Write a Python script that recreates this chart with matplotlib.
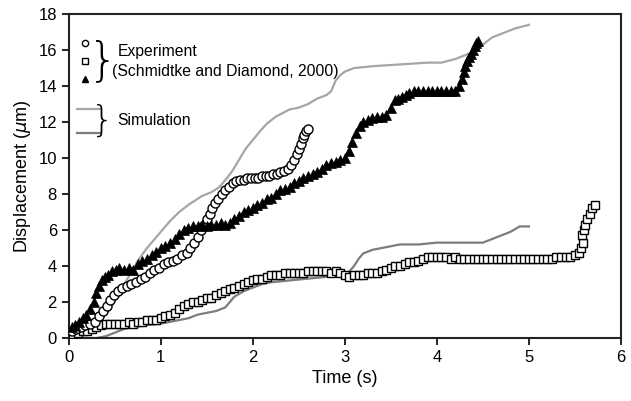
import numpy as np
import matplotlib
matplotlib.use('Agg')
import matplotlib.pyplot as plt

plt.rcParams['font.family'] = ['Liberation Sans', 'DejaVu Sans']

# experiment, circles
circ_t = [0.03, 0.08, 0.13, 0.18, 0.23, 0.28, 0.33, 0.37, 0.41, 0.45, 0.49, 0.53,
          0.58, 0.63, 0.68, 0.73, 0.78, 0.83, 0.88, 0.93, 0.98, 1.03, 1.08, 1.13,
          1.18, 1.23, 1.28, 1.32, 1.36, 1.40, 1.44, 1.47, 1.50, 1.53, 1.56, 1.59,
          1.62, 1.66, 1.70, 1.74, 1.78, 1.82, 1.86, 1.90, 1.94, 1.98, 2.02, 2.06,
          2.10, 2.14, 2.18, 2.22, 2.26, 2.30, 2.34, 2.38, 2.42, 2.45, 2.48, 2.50,
          2.52, 2.54, 2.56, 2.58, 2.60]
circ_y = [0.4, 0.5, 0.6, 0.7, 0.8, 0.9, 1.2, 1.5, 1.8, 2.1, 2.4, 2.6,
          2.8, 2.9, 3.0, 3.1, 3.3, 3.4, 3.6, 3.8, 3.9, 4.1, 4.2, 4.3,
          4.4, 4.6, 4.7, 5.0, 5.3, 5.6, 6.0, 6.3, 6.6, 6.9, 7.2, 7.5,
          7.7, 8.0, 8.2, 8.4, 8.6, 8.7, 8.8, 8.8, 8.9, 8.9, 8.9, 8.9,
          9.0, 9.0, 9.0, 9.1, 9.1, 9.2, 9.3, 9.4, 9.6, 9.9, 10.2, 10.5,
          10.8, 11.1, 11.3, 11.5, 11.6]

# experiment, squares
sq_t = [0.05, 0.10, 0.15, 0.20, 0.25, 0.30, 0.35, 0.40, 0.45, 0.50,
        0.55, 0.60, 0.65, 0.70, 0.75, 0.80, 0.85, 0.90, 0.95, 1.00,
        1.05, 1.10, 1.15, 1.20, 1.25, 1.30, 1.35, 1.40, 1.45, 1.50,
        1.55, 1.60, 1.65, 1.70, 1.75, 1.80, 1.85, 1.90, 1.95, 2.00,
        2.05, 2.10, 2.15, 2.20, 2.25, 2.30, 2.35, 2.40, 2.45, 2.50,
        2.55, 2.60, 2.65, 2.70, 2.75, 2.80, 2.85, 2.90, 2.95, 3.00,
        3.05, 3.10, 3.15, 3.20, 3.25, 3.30, 3.35, 3.40, 3.45, 3.50,
        3.55, 3.60, 3.65, 3.70, 3.75, 3.80, 3.85, 3.90, 3.95, 4.00,
        4.05, 4.10, 4.15, 4.20, 4.25, 4.30, 4.35, 4.40, 4.45, 4.50,
        4.55, 4.60, 4.65, 4.70, 4.75, 4.80, 4.85, 4.90, 4.95, 5.00,
        5.05, 5.10, 5.15, 5.20, 5.25, 5.30, 5.35, 5.40, 5.45, 5.50,
        5.54, 5.57, 5.59, 5.58, 5.60, 5.61, 5.63, 5.66, 5.69, 5.72]
sq_y = [0.2, 0.3, 0.4, 0.4, 0.5, 0.6, 0.7, 0.8, 0.8, 0.8,
        0.8, 0.8, 0.9, 0.8, 0.9, 0.9, 1.0, 1.0, 1.0, 1.1,
        1.2, 1.3, 1.4, 1.6, 1.8, 1.9, 2.0, 2.0, 2.1, 2.2,
        2.2, 2.4, 2.5, 2.6, 2.7, 2.8, 2.9, 3.0, 3.1, 3.2,
        3.3, 3.3, 3.4, 3.5, 3.5, 3.5, 3.6, 3.6, 3.6, 3.6,
        3.6, 3.7, 3.7, 3.7, 3.7, 3.7, 3.6, 3.7, 3.6, 3.5,
        3.4, 3.5, 3.5, 3.5, 3.6, 3.6, 3.6, 3.7, 3.8, 3.9,
        4.0, 4.0, 4.1, 4.2, 4.2, 4.3, 4.4, 4.5, 4.5, 4.5,
        4.5, 4.5, 4.4, 4.5, 4.4, 4.4, 4.4, 4.4, 4.4, 4.4,
        4.4, 4.4, 4.4, 4.4, 4.4, 4.4, 4.4, 4.4, 4.4, 4.4,
        4.4, 4.4, 4.4, 4.4, 4.4, 4.5, 4.5, 4.5, 4.5, 4.6,
        4.7, 5.0, 5.3, 5.7, 6.0, 6.3, 6.6, 6.9, 7.2, 7.4]

# experiment, triangles
tri_t = [0.03, 0.07, 0.11, 0.15, 0.19, 0.23, 0.27, 0.30, 0.33, 0.36, 0.39,
         0.43, 0.47, 0.51, 0.55,
         0.60, 0.65, 0.70, 0.75, 0.80, 0.85, 0.90, 0.95, 1.00, 1.05, 1.10, 1.15,
         1.20, 1.25, 1.30, 1.35, 1.40, 1.45, 1.50, 1.55, 1.60, 1.65, 1.70, 1.75,
         1.80, 1.85, 1.90, 1.95, 2.00, 2.05, 2.10, 2.15, 2.20, 2.25, 2.30, 2.35,
         2.40, 2.45, 2.50, 2.55, 2.60, 2.65, 2.70, 2.75, 2.80, 2.85, 2.90, 2.95,
         3.00, 3.04, 3.08, 3.12, 3.16, 3.20, 3.25, 3.30, 3.35, 3.40, 3.45, 3.50,
         3.54, 3.58, 3.62, 3.66, 3.70, 3.75, 3.80, 3.85, 3.90, 3.95, 4.00, 4.05,
         4.10, 4.15, 4.20, 4.24, 4.27, 4.29, 4.31, 4.33, 4.35, 4.37, 4.39, 4.41,
         4.43, 4.45]
tri_y = [0.6, 0.7, 0.9, 1.1, 1.3, 1.6, 2.0, 2.5, 2.9, 3.2, 3.4,
         3.5, 3.7, 3.8, 3.9,
         3.8, 3.9, 3.8, 4.1, 4.3, 4.4, 4.6, 4.8, 5.0, 5.1, 5.3, 5.5,
         5.8, 6.0, 6.1, 6.2, 6.2, 6.3, 6.2, 6.3, 6.3, 6.4, 6.3, 6.4,
         6.6, 6.8, 7.0, 7.1, 7.2, 7.4, 7.5, 7.7, 7.8, 8.0, 8.2, 8.3,
         8.4, 8.6, 8.7, 8.9, 9.0, 9.1, 9.2, 9.4, 9.6, 9.7, 9.8, 9.9,
         10.0, 10.4, 10.9, 11.4, 11.8, 12.0, 12.1, 12.2, 12.3, 12.3, 12.4, 12.8,
         13.2, 13.3, 13.4, 13.5, 13.6, 13.7, 13.7, 13.7, 13.7, 13.7, 13.7, 13.7,
         13.7, 13.7, 13.7, 14.0, 14.4, 14.8, 15.1, 15.4, 15.6, 15.8, 16.0, 16.2,
         16.4, 16.5]

# simulations
sim1_t = [0.0, 0.15, 0.25, 0.35, 0.45, 0.55, 0.65, 0.75, 0.85, 1.0,
          1.1, 1.2, 1.3, 1.45, 1.55, 1.64, 1.72, 1.78, 1.85, 1.92,
          2.0, 2.08, 2.15, 2.25, 2.4, 2.5, 2.6, 2.7, 2.8, 2.85,
          2.9, 2.95, 3.0, 3.1, 3.3, 3.6, 3.9, 4.05, 4.2, 4.35,
          4.5, 4.6, 4.7, 4.85, 5.0]
sim1_y = [0.3, 0.3, 0.5, 1.0, 1.6, 2.5, 3.4, 4.3, 5.0, 5.9,
          6.5, 7.0, 7.4, 7.9, 8.1, 8.4, 8.9, 9.3, 9.9, 10.5,
          11.0, 11.5, 11.9, 12.3, 12.7, 12.8, 13.0, 13.3, 13.5, 13.7,
          14.3, 14.6, 14.8, 15.0, 15.1, 15.2, 15.3, 15.3, 15.5, 15.8,
          16.3, 16.7, 16.9, 17.2, 17.4]
sim2_t = [0.0, 0.2, 0.3, 0.4, 0.5, 0.6, 0.7, 0.8, 1.0, 1.2,
          1.3, 1.4, 1.5, 1.6, 1.7, 1.75, 1.8, 1.9, 2.0, 2.1,
          2.2, 2.4, 2.6, 2.8, 2.95, 3.05, 3.1, 3.15, 3.2, 3.3,
          3.4, 3.5, 3.6, 3.8, 4.0, 4.2, 4.5, 4.6, 4.7, 4.8,
          4.9, 5.0]
sim2_y = [0.0, 0.0, 0.0, 0.1, 0.3, 0.5, 0.6, 0.7, 0.8, 1.0,
          1.1, 1.3, 1.4, 1.5, 1.7, 2.0, 2.3, 2.6, 2.8, 3.0,
          3.1, 3.2, 3.3, 3.4, 3.5, 3.7, 4.0, 4.4, 4.7, 4.9,
          5.0, 5.1, 5.2, 5.2, 5.3, 5.3, 5.3, 5.5, 5.7, 5.9,
          6.2, 6.2]

light = '#a6a6a6'
dark = '#7c7c7c'

fig = plt.figure(figsize=(6.31, 4.01), dpi=100)
ax = fig.add_axes([0.109, 0.157, 0.875, 0.808])

ax.plot(sim1_t, sim1_y, color=light, lw=1.6, zorder=2)
ax.plot(sim2_t, sim2_y, color=dark, lw=1.6, zorder=2)
ax.plot(sq_t, sq_y, 's', ms=6, mfc='white', mec='black', mew=1, zorder=3)
ax.plot(circ_t, circ_y, 'o', ms=6.5, mfc='white', mec='black', mew=1, zorder=3)
ax.plot(tri_t, tri_y, '^', ms=6.5, mfc='black', mec='black', mew=0.5, zorder=4)

# legend drawn by hand
ax.plot([0.18], [16.4], 'o', ms=4.5, mfc='white', mec='black', mew=1)
ax.plot([0.18], [15.4], 's', ms=4.5, mfc='white', mec='black', mew=1)
ax.plot([0.18], [14.4], '^', ms=5, mfc='black', mec='black')
ax.plot([0.09, 0.34], [12.7, 12.7], color=light, lw=1.6)
ax.plot([0.09, 0.34], [11.4, 11.4], color=dark, lw=1.6)
ax.text(0.37, 15.4, '}', fontsize=34, ha='center', va='center',
        family='DejaVu Sans', fontweight='light')
ax.text(0.37, 12.05, '}', fontsize=26, ha='center', va='center',
        family='DejaVu Sans', fontweight='light')
ax.text(0.53, 15.9, 'Experiment', fontsize=11.3, va='center')
ax.text(0.47, 14.8, '(Schmidtke and Diamond, 2000)', fontsize=11.3, va='center')
ax.text(0.53, 12.1, 'Simulation', fontsize=11.3, va='center')

ax.set_xlim(0, 6)
ax.set_ylim(0, 18)
ax.set_xticks(range(0, 7))
ax.set_yticks(range(0, 19, 2))
ax.set_xlabel('Time (s)', fontsize=13)
ax.set_ylabel('Displacement ($\\mu$m)', fontsize=13)
ax.tick_params(labelsize=12, direction='out', length=5, width=1.2)
for s in ax.spines.values():
    s.set_linewidth(1.5)
    s.set_color('#222222')

fig.savefig('out.png', dpi=100)
